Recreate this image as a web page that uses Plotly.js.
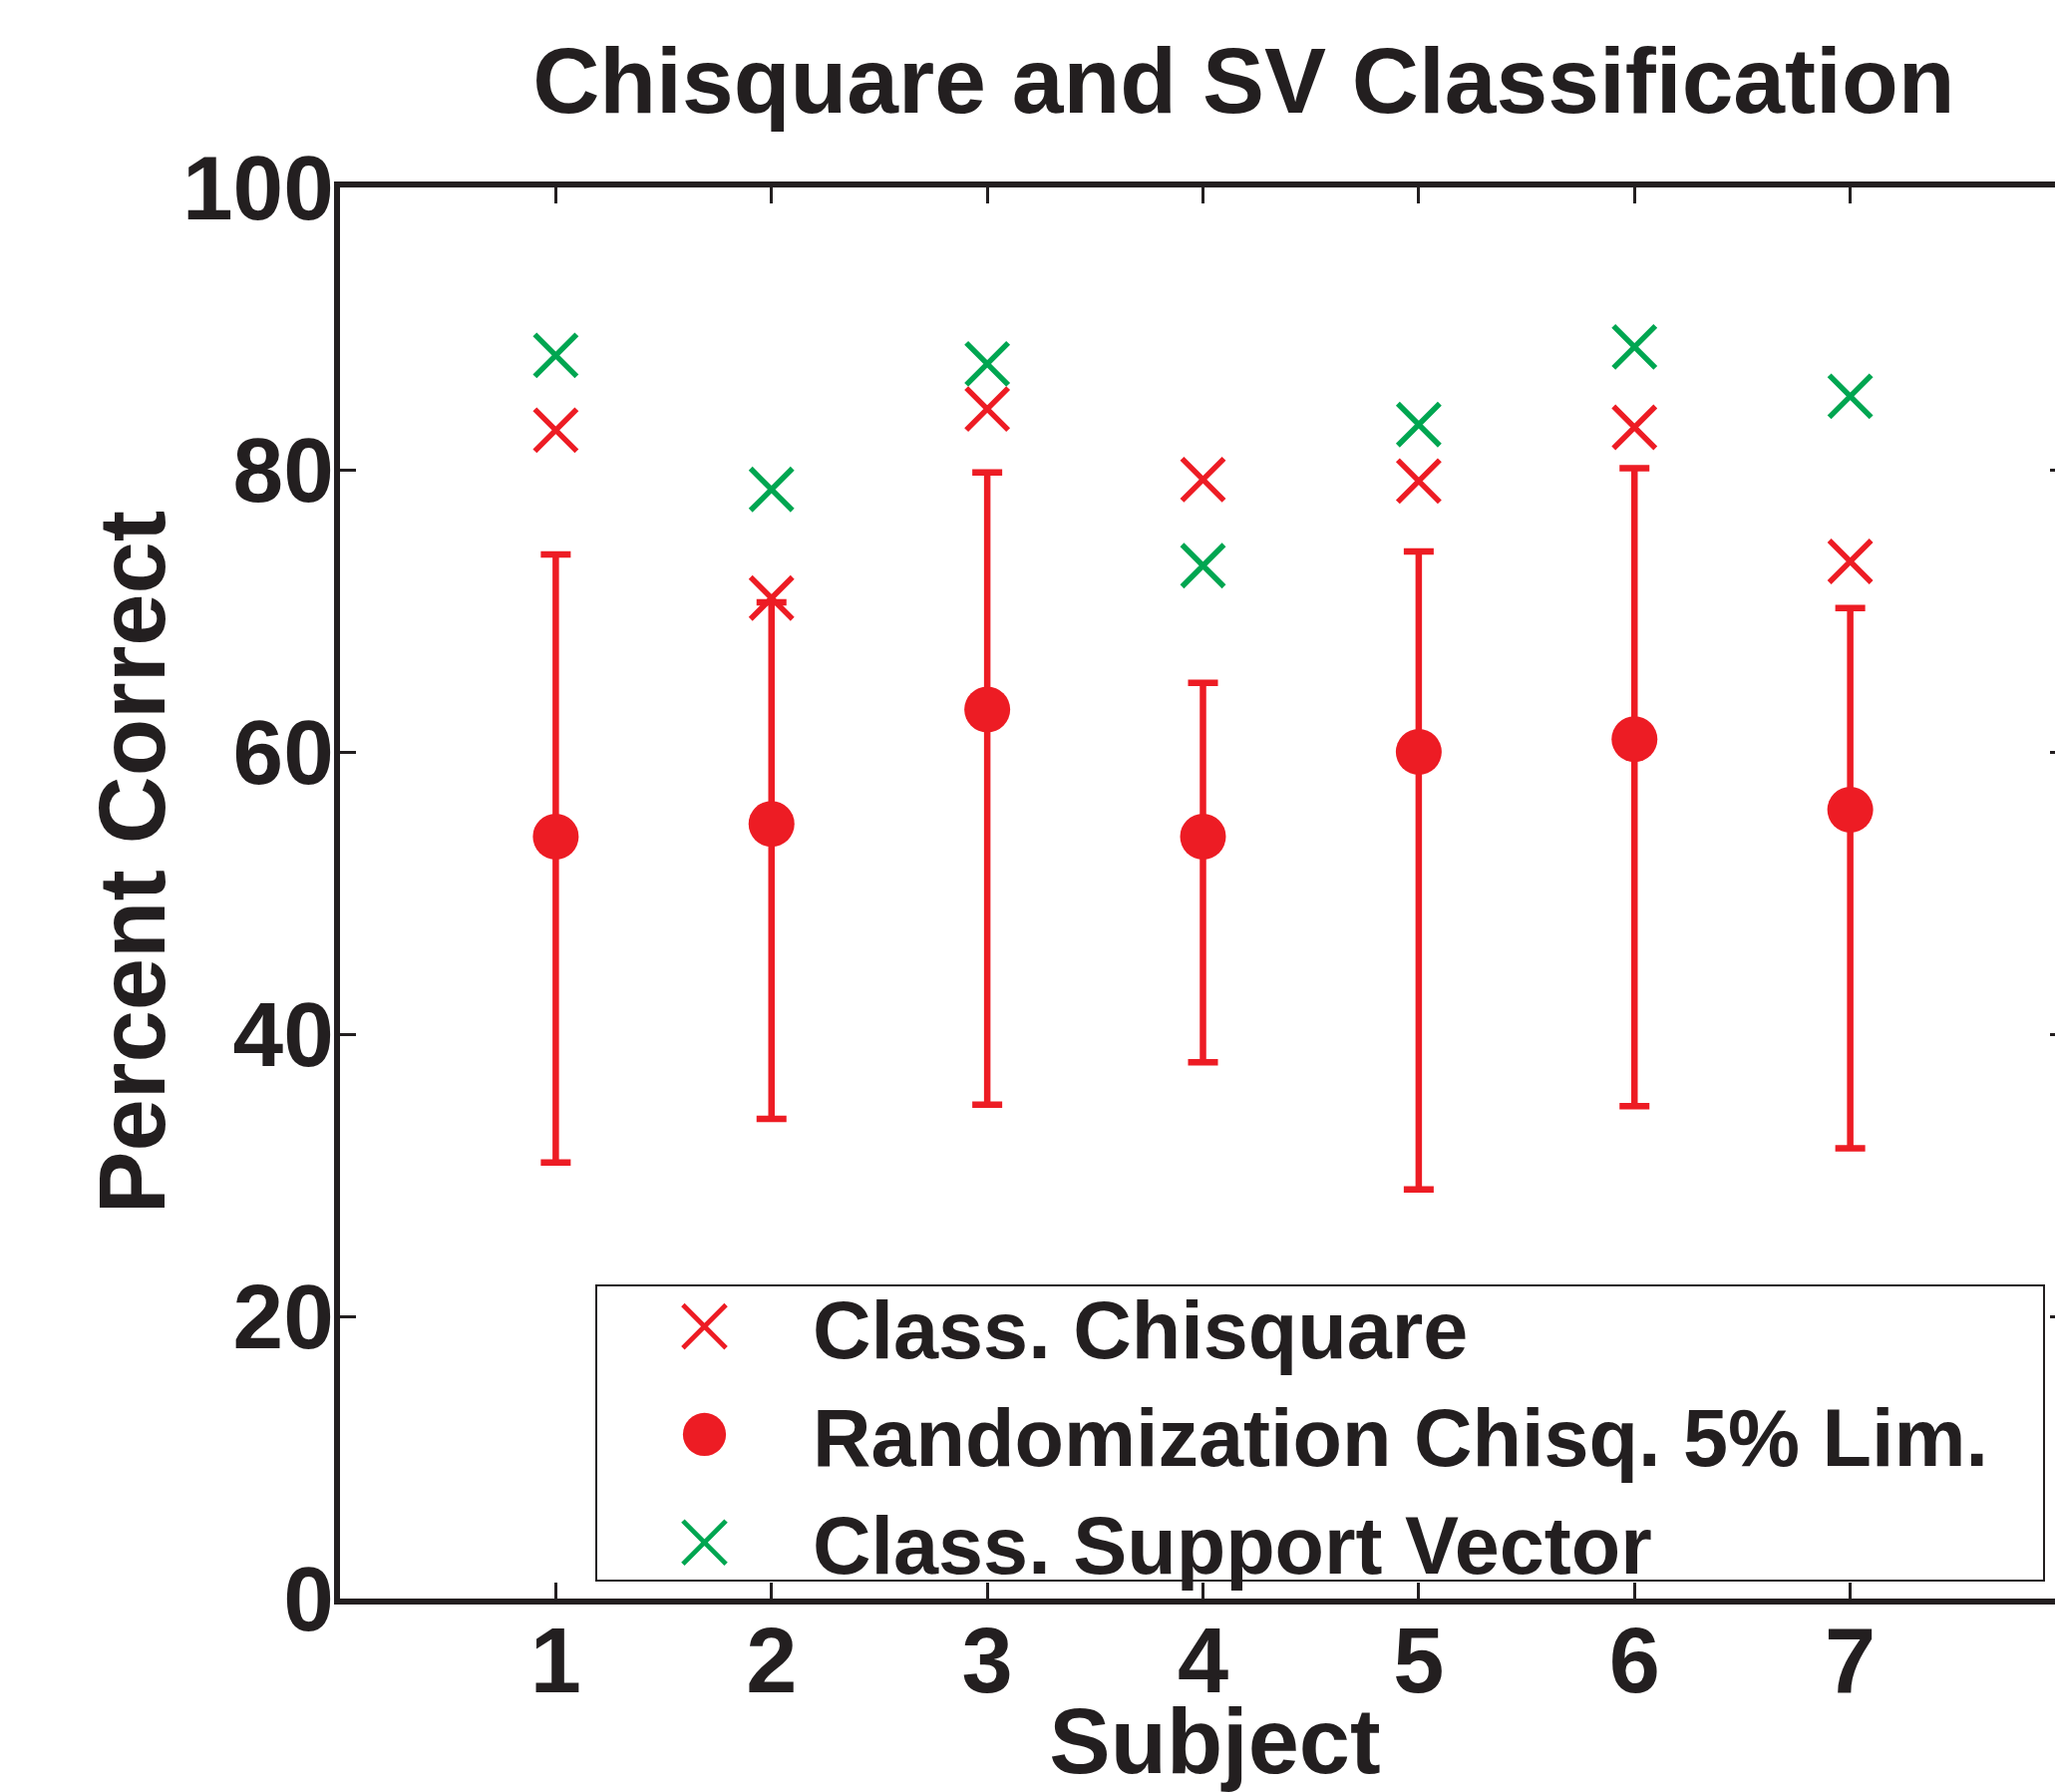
<!DOCTYPE html>
<html>
<head>
<meta charset="utf-8">
<script src="https://cdn.plot.ly/plotly-3.0.1.min.js"></script>
<style>
html, body { margin: 0; padding: 0; overflow: hidden; background: #fff; }
#chart { width: 2072px; height: 1797px; }
</style>
</head>
<body>
<div id="chart"></div>
<script>
// Data
const subjects = [1, 2, 3, 4, 5, 6, 7];
const chisquareClass = [82.8, 70.9, 84.3, 79.3, 79.2, 83.0, 73.5];
const svClass = [88.1, 78.6, 87.5, 73.2, 83.2, 88.7, 85.2];
const randMedian = [54.0, 54.9, 63.0, 54.0, 60.0, 60.9, 55.9];
const randUpper = [74.0, 70.6, 79.8, 64.9, 74.2, 80.1, 70.2];
const randLower = [30.9, 34.0, 35.0, 38.0, 29.0, 34.9, 31.9];
const xTickLabels = ['1', '2', '3', '4', '5', '6', '7'];
const yTickVals = [0, 20, 40, 60, 80, 100];

const RED = '#ED1C24';
const GREEN = '#00A651';
const INK = '#231F20';
const FONT = 'Liberation Sans, Arial, Helvetica, sans-serif';

const W = 2072, H = 1797;
const M = { l: 341, r: 0, t: 188, b: 194 };
const PW = W - M.l - M.r, PH = H - M.t - M.b;
const px2x = (px) => (px - M.l) / PW;
const px2y = (py) => 1 - (py - M.t) / PH;

const errPlus = randUpper.map((u, i) => u - randMedian[i]);
const errMinus = randMedian.map((m, i) => m - randLower[i]);

const traces = [
  {
    type: 'scatter', mode: 'markers', name: 'Class. Chisquare',
    x: subjects, y: chisquareClass,
    marker: { symbol: 'x-thin-open', size: 42, color: RED, line: { color: RED, width: 5.5 } }
  },
  {
    type: 'scatter', mode: 'markers', name: 'Randomization Chisq. 5% Lim.',
    x: subjects, y: randMedian,
    marker: { symbol: 'circle', size: 46, color: RED, line: { width: 0 } },
    error_y: { type: 'data', symmetric: false, array: errPlus, arrayminus: errMinus,
               color: RED, thickness: 6.5, width: 15 }
  },
  {
    type: 'scatter', mode: 'markers', name: 'Class. Support Vector',
    x: subjects, y: svClass,
    marker: { symbol: 'x-thin-open', size: 42, color: GREEN, line: { color: GREEN, width: 5.5 } }
  }
];

const layout = {
  width: W, height: H,
  margin: M,
  paper_bgcolor: '#fff', plot_bgcolor: '#fff',
  font: { family: FONT, color: INK, size: 90, weight: 'bold' },
  title: {
    text: '<b>Chisquare and SV Classification</b>',
    font: { family: FONT, size: 93, color: INK },
    xref: 'container', x: 0.602, xanchor: 'center',
    yref: 'container', y: 0.955, yanchor: 'middle'
  },
  showlegend: true,
  legend: {
    x: px2x(598), xanchor: 'left',
    y: px2y(1271), yanchor: 'top',
    bgcolor: 'rgba(0,0,0,0)', borderwidth: 0,
    font: { family: FONT, size: 81, color: INK, weight: 'bold' },
    itemwidth: 207
  },
  shapes: [
    { type: 'rect', xref: 'paper', yref: 'paper', layer: 'above',
      x0: px2x(598), x1: px2x(2050), y0: px2y(1585), y1: px2y(1289),
      fillcolor: '#fff', line: { color: INK, width: 2 } }
  ],
  xaxis: {
    range: [0, 8], tickvals: subjects, ticktext: xTickLabels,
    showgrid: false, zeroline: false,
    showline: true, linecolor: INK, linewidth: 6, mirror: 'ticks',
    ticks: 'inside', ticklen: 16, tickwidth: 3, tickcolor: INK,
    ticklabelstandoff: -22,
    tickfont: { family: FONT, size: 92, color: INK, weight: 'bold' },
    title: { text: '<b>Subject</b>', font: { family: FONT, size: 92, color: INK }, standoff: 8 },
    automargin: false
  },
  yaxis: {
    range: [0, 100], tickvals: yTickVals,
    showgrid: false, zeroline: false,
    showline: true, linecolor: INK, linewidth: 6, mirror: 'ticks',
    ticks: 'inside', ticklen: 16, tickwidth: 3, tickcolor: INK,
    ticklabelstandoff: -18,
    tickfont: { family: FONT, size: 91, color: INK, weight: 'bold' },
    title: { text: '<b>Percent Correct</b>', font: { family: FONT, size: 94, color: INK }, standoff: 0 },
    automargin: false
  }
};

function nudge(el, dx, dy) {
  if (!el) return;
  const t = el.getAttribute('transform') || '';
  el.setAttribute('transform', 'translate(' + dx + ',' + dy + ') ' + t);
}

Plotly.newPlot('chart', traces, layout, { staticPlot: true, displayModeBar: false }).then(function (gd) {
  // Enlarge the legend symbols to match the marker sizes of the reference legend
  const k = 2.7;
  gd.querySelectorAll('.legend .legendpoints path.scatterpts').forEach(function (p) {
    const t = p.getAttribute('transform') || '';
    p.setAttribute('transform', t + ' scale(' + k + ')');
    const sw = parseFloat(p.style.strokeWidth || '0');
    if (sw > 0) p.style.strokeWidth = (4.8 / k) + 'px';
  });
  // Fine placement of the axis titles as in the reference
  nudge(gd.querySelector('.g-xtitle text'), 12, 0);
  nudge(gd.querySelector('.g-ytitle text'), 12, -31);
});
</script>
</body>
</html>
